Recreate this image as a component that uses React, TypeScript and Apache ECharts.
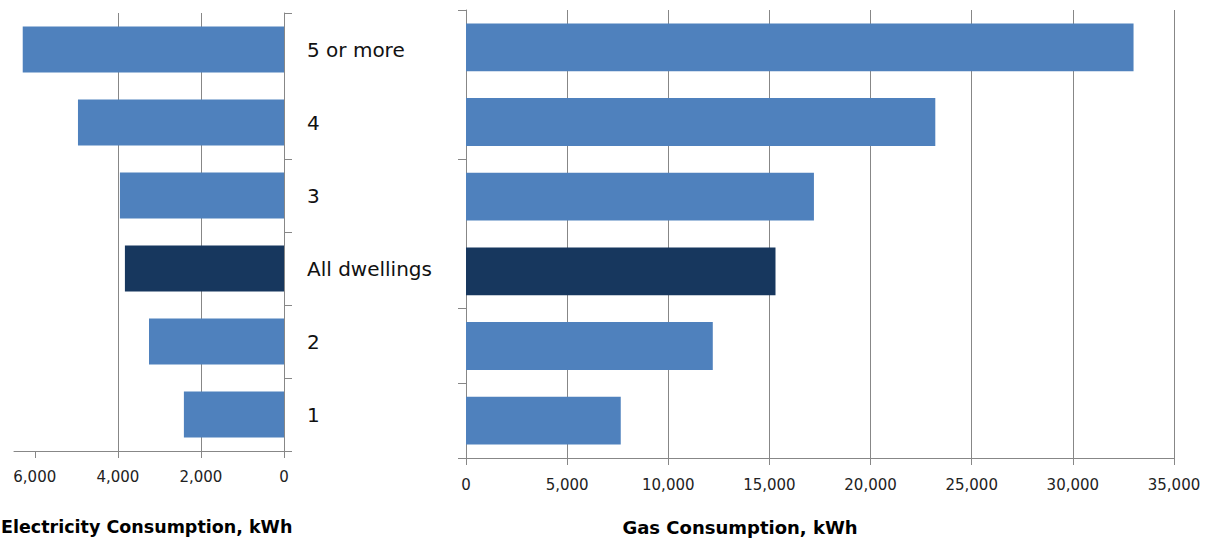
import React, { useEffect, useRef } from "react";
import * as echarts from "echarts";

// Categories from bottom to top
const categories = ["1", "2", "All dwellings", "3", "4", "5 or more"];
const electricity = [2410, 3250, 3830, 3950, 4960, 6290];
const gas = [7650, 12200, 15300, 17200, 23200, 33000];
const highlightCategory = "All dwellings";
const elecTicks = [0, 2000, 4000, 6000];

const BLUE = "#4F81BD";
const DARK = "#17375E";
const GRAY = "#878787";
const FONT = "DejaVu Sans";

function colored(values: number[]) {
  return values.map((v, i) => ({
    value: v,
    itemStyle: { color: categories[i] === highlightCategory ? DARK : BLUE },
  }));
}

export default function App() {
  const ref = useRef<HTMLDivElement>(null);
  useEffect(() => {
    if (!ref.current) return;
    const chart = echarts.init(ref.current, undefined, { renderer: "svg" });
    chart.setOption({
      animation: false,
      backgroundColor: "#ffffff",
      grid: [
        { left: 14, top: 13, width: 270, height: 438 },
        { left: 466, top: 10, width: 708, height: 448 },
      ],
      xAxis: [
        {
          gridIndex: 0,
          type: "value",
          inverse: true,
          min: 0,
          max: 6500,
          interval: 2000,
          axisLine: { show: true, lineStyle: { color: GRAY, width: 1 } },
          axisTick: { show: true, length: 7, customValues: elecTicks, lineStyle: { color: GRAY } },
          axisLabel: {
            showMaxLabel: false,
            margin: 18,
            fontFamily: FONT,
            fontSize: 15,
            color: "#222",
            formatter: (v: number) => v.toLocaleString("en-US"),
          },
          splitLine: { show: true, showMaxLine: false, lineStyle: { color: GRAY, width: 1 } },
        },
        {
          gridIndex: 1,
          type: "value",
          min: 0,
          max: 35000,
          interval: 5000,
          axisLine: { show: true, lineStyle: { color: GRAY, width: 1 } },
          axisTick: { show: true, length: 7, lineStyle: { color: GRAY } },
          axisLabel: {
            margin: 19,
            fontFamily: FONT,
            fontSize: 15,
            color: "#222",
            formatter: (v: number) => v.toLocaleString("en-US"),
          },
          splitLine: { show: true, lineStyle: { color: GRAY, width: 1 } },
        },
      ],
      yAxis: [
        {
          gridIndex: 0,
          type: "category",
          position: "right",
          data: categories,
          axisLine: { show: true, lineStyle: { color: GRAY, width: 1 } },
          axisTick: {
            show: true,
            length: 8,
            lineStyle: { color: GRAY },
            interval: (index: number) => index !== 5,
          },
          axisLabel: {
            interval: 0,
            margin: 23,
            fontFamily: FONT,
            fontSize: 20,
            color: "#111",
          },
        },
        {
          gridIndex: 1,
          type: "category",
          position: "left",
          data: categories,
          axisLine: { show: true, lineStyle: { color: GRAY, width: 1 } },
          axisTick: {
            show: true,
            length: 8,
            lineStyle: { color: GRAY },
            interval: (index: number) => index !== 3 && index !== 5,
          },
          axisLabel: { show: false },
        },
      ],
      series: [
        {
          type: "bar",
          xAxisIndex: 0,
          yAxisIndex: 0,
          data: colored(electricity),
          barCategoryGap: "37%",
        },
        {
          type: "bar",
          xAxisIndex: 1,
          yAxisIndex: 1,
          data: colored(gas),
          barCategoryGap: "36%",
        },
      ],
      graphic: [
        {
          type: "text",
          x: 1,
          y: 527,
          style: {
            text: "Electricity Consumption, kWh",
            fontFamily: FONT,
            fontWeight: "bold",
            fontSize: 17.5,
            fill: "#000",
            align: "left",
            verticalAlign: "middle",
          },
        },
        {
          type: "text",
          x: 740,
          y: 527,
          style: {
            text: "Gas Consumption, kWh",
            fontFamily: FONT,
            fontWeight: "bold",
            fontSize: 18,
            fill: "#000",
            align: "center",
            verticalAlign: "middle",
          },
        },
      ],
    });
    return () => chart.dispose();
  }, []);
  return (
    <div
      ref={ref}
      style={{ position: "fixed", left: 0, top: 0, width: 1220, height: 540 }}
    />
  );
}
